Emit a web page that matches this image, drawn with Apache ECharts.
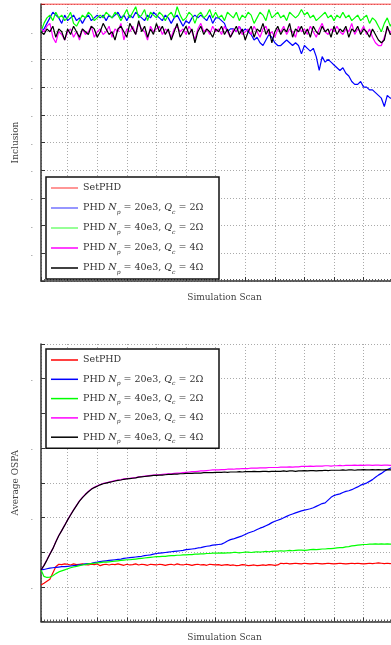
<!DOCTYPE html>
<html>
<head>
<meta charset="utf-8">
<script src="https://cdn.jsdelivr.net/npm/echarts@6/dist/echarts.min.js"></script>
<style>
  html, body { margin: 0; padding: 0; background: #fff; }
  #chart { width: 391px; height: 645px; }
</style>
</head>
<body>
<div id="chart"></div>
<script>
// legend names, same order in both panels
const seriesNames = [
  'SetPHD',
  'PHD N_p = 20e3, Q_c = 2Ω',
  'PHD N_p = 40e3, Q_c = 2Ω',
  'PHD N_p = 20e3, Q_c = 4Ω',
  'PHD N_p = 40e3, Q_c = 4Ω'
]
const seriesColors = ['#ff0000', '#0000ff', '#00ff00', '#ff00ff', '#000000']

// top panel: inclusion per scan (scan 1..120)
const inclSetPHD = [
  1, 1, 1, 1, 1, 1, 1, 1, 1, 1, 1, 1, 1, 1, 1, 1, 1, 1, 1, 1,
  1, 1, 1, 1, 1, 1, 1, 1, 1, 1, 1, 1, 1, 1, 1, 1, 1, 1, 1, 1,
  1, 1, 1, 1, 1, 1, 1, 1, 1, 1, 1, 1, 1, 1, 1, 1, 1, 1, 1, 1,
  1, 1, 1, 1, 1, 1, 1, 1, 1, 1, 1, 1, 1, 1, 1, 1, 1, 1, 1, 1,
  1, 1, 1, 1, 1, 1, 1, 1, 1, 1, 1, 1, 1, 1, 1, 1, 1, 1, 1, 1,
  1, 1, 1, 1, 1, 1, 1, 1, 1, 1, 1, 1, 1, 1, 1, 1, 1, 1, 1, 1
]
const inclN20Q2 = [
  0.90, 0.91, 0.93, 0.95, 0.97, 0.96, 0.95, 0.93, 0.96, 0.94, 0.95, 0.96, 0.94, 0.95, 0.93, 0.95, 0.96, 0.94, 0.95, 0.96,
  0.95, 0.96, 0.94, 0.96, 0.95, 0.96, 0.97, 0.95, 0.96, 0.94, 0.96, 0.95, 0.97, 0.96, 0.95, 0.94, 0.96, 0.95, 0.97, 0.96,
  0.95, 0.94, 0.96, 0.95, 0.93, 0.95, 0.96, 0.94, 0.92, 0.94, 0.93, 0.95, 0.96, 0.95, 0.96, 0.95, 0.94, 0.96, 0.93, 0.95,
  0.95, 0.94, 0.93, 0.90, 0.91, 0.91, 0.90, 0.92, 0.90, 0.91, 0.90, 0.89, 0.87, 0.88, 0.86, 0.85, 0.87, 0.89, 0.88, 0.86,
  0.85, 0.85, 0.86, 0.87, 0.86, 0.85, 0.86, 0.85, 0.82, 0.85, 0.84, 0.83, 0.84, 0.81, 0.76, 0.81, 0.79, 0.80, 0.79, 0.78,
  0.77, 0.76, 0.77, 0.75, 0.74, 0.72, 0.71, 0.71, 0.72, 0.70, 0.70, 0.69, 0.69, 0.68, 0.67, 0.66, 0.63, 0.67, 0.66, 0.66
]
const inclN40Q2 = [
  0.90, 0.93, 0.95, 0.96, 0.94, 0.97, 0.95, 0.96, 0.94, 0.95, 0.97, 0.93, 0.92, 0.94, 0.96, 0.95, 0.97, 0.96, 0.94, 0.95,
  0.96, 0.95, 0.97, 0.96, 0.95, 0.97, 0.96, 0.94, 0.96, 0.98, 0.95, 0.97, 0.99, 0.95, 0.96, 0.98, 0.94, 0.97, 0.96, 0.95,
  0.97, 0.96, 0.94, 0.96, 0.97, 0.95, 0.99, 0.96, 0.94, 0.95, 0.97, 0.96, 0.93, 0.96, 0.97, 0.95, 0.96, 0.98, 0.95, 0.97,
  0.95, 0.96, 0.94, 0.97, 0.96, 0.95, 0.97, 0.94, 0.96, 0.95, 0.97, 0.96, 0.93, 0.95, 0.97, 0.96, 0.94, 0.98, 0.95, 0.96,
  0.97, 0.95, 0.96, 0.94, 0.97, 0.96, 0.95, 0.96, 0.98, 0.96, 0.97, 0.95, 0.96, 0.94, 0.95, 0.96, 0.97, 0.95, 0.96, 0.94,
  0.96, 0.95, 0.97, 0.95, 0.96, 0.94, 0.95, 0.96, 0.94, 0.95, 0.96, 0.93, 0.95, 0.94, 0.92, 0.90, 0.93, 0.95, 0.92, 0.94
]
const inclN20Q4 = [
  0.91, 0.90, 0.92, 0.93, 0.88, 0.86, 0.90, 0.89, 0.87, 0.90, 0.91, 0.88, 0.90, 0.87, 0.91, 0.89, 0.90, 0.92, 0.88, 0.90,
  0.91, 0.89, 0.90, 0.92, 0.88, 0.91, 0.90, 0.93, 0.87, 0.91, 0.90, 0.92, 0.89, 0.93, 0.91, 0.90, 0.87, 0.92, 0.90, 0.91,
  0.92, 0.89, 0.91, 0.90, 0.88, 0.91, 0.92, 0.90, 0.91, 0.89, 0.92, 0.90, 0.87, 0.91, 0.93, 0.90, 0.91, 0.89, 0.92, 0.90,
  0.91, 0.89, 0.92, 0.90, 0.88, 0.91, 0.90, 0.92, 0.89, 0.90, 0.91, 0.89, 0.92, 0.90, 0.88, 0.91, 0.92, 0.89, 0.90, 0.88,
  0.91, 0.90, 0.92, 0.89, 0.91, 0.90, 0.88, 0.92, 0.90, 0.91, 0.89, 0.92, 0.90, 0.88, 0.91, 0.93, 0.90, 0.89, 0.91, 0.90,
  0.92, 0.90, 0.89, 0.91, 0.90, 0.93, 0.89, 0.91, 0.90, 0.92, 0.89, 0.91, 0.88, 0.86, 0.85, 0.85, 0.88, 0.91, 0.90, 0.89
]
const inclN40Q4 = [
  0.90, 0.89, 0.91, 0.90, 0.92, 0.88, 0.91, 0.90, 0.87, 0.91, 0.89, 0.92, 0.90, 0.88, 0.91, 0.90, 0.89, 0.92, 0.91, 0.88,
  0.90, 0.93, 0.91, 0.89, 0.90, 0.87, 0.91, 0.92, 0.90, 0.88, 0.93, 0.91, 0.89, 0.94, 0.90, 0.92, 0.88, 0.91, 0.89, 0.93,
  0.90, 0.92, 0.89, 0.91, 0.87, 0.90, 0.93, 0.88, 0.90, 0.92, 0.89, 0.91, 0.86, 0.90, 0.92, 0.89, 0.91, 0.90, 0.88, 0.91,
  0.90, 0.92, 0.89, 0.91, 0.88, 0.90, 0.92, 0.89, 0.91, 0.87, 0.90, 0.92, 0.88, 0.91, 0.90, 0.93, 0.89, 0.91, 0.86, 0.90,
  0.92, 0.89, 0.91, 0.90, 0.93, 0.88, 0.91, 0.90, 0.92, 0.89, 0.91, 0.88, 0.92, 0.90, 0.89, 0.92, 0.90, 0.91, 0.88, 0.92,
  0.89, 0.91, 0.90, 0.92, 0.88, 0.91, 0.90, 0.92, 0.89, 0.91, 0.90, 0.88, 0.91, 0.89, 0.87, 0.86, 0.87, 0.92, 0.89, 0.90
]

// bottom panel: average OSPA per scan (scan 1..120)
const ospaSetPHD = [
  1.05, 1.10, 1.16, 1.22, 1.40, 1.58, 1.65, 1.64, 1.66, 1.65, 1.63, 1.66, 1.64, 1.65, 1.66, 1.64, 1.63, 1.65, 1.64, 1.66,
  1.61, 1.64, 1.65, 1.63, 1.65, 1.64, 1.66, 1.64, 1.62, 1.65, 1.63, 1.64, 1.66, 1.63, 1.65, 1.64, 1.62, 1.65, 1.64, 1.63,
  1.65, 1.64, 1.62, 1.64, 1.65, 1.63, 1.66, 1.64, 1.63, 1.65, 1.64, 1.62, 1.64, 1.65, 1.63, 1.64, 1.62, 1.65, 1.64, 1.63,
  1.64, 1.62, 1.63, 1.64, 1.62, 1.63, 1.61, 1.62, 1.64, 1.63, 1.61, 1.62, 1.63, 1.61, 1.62, 1.63, 1.62, 1.64, 1.63, 1.62,
  1.63, 1.68, 1.67, 1.68, 1.66, 1.67, 1.68, 1.67, 1.66, 1.68, 1.67, 1.66, 1.67, 1.68, 1.67, 1.66, 1.67, 1.68, 1.67, 1.66,
  1.67, 1.68, 1.67, 1.66, 1.67, 1.68, 1.67, 1.68, 1.67, 1.66, 1.67, 1.68, 1.67, 1.68, 1.69, 1.68, 1.67, 1.68, 1.67, 1.68
]
const ospaN20Q2 = [
  1.49, 1.50, 1.52, 1.54, 1.55, 1.56, 1.57, 1.58, 1.58, 1.59, 1.60, 1.61, 1.62, 1.63, 1.64, 1.66, 1.67, 1.68, 1.70, 1.71,
  1.73, 1.74, 1.75, 1.76, 1.77, 1.78, 1.79, 1.80, 1.82, 1.83, 1.84, 1.85, 1.86, 1.87, 1.88, 1.90, 1.91, 1.92, 1.94, 1.96,
  1.97, 1.98, 1.99, 2.00, 2.01, 2.02, 2.03, 2.04, 2.05, 2.07, 2.08, 2.09, 2.10, 2.12, 2.13, 2.15, 2.17, 2.18, 2.20, 2.21,
  2.22, 2.23, 2.27, 2.32, 2.36, 2.38, 2.41, 2.44, 2.47, 2.51, 2.55, 2.58, 2.61, 2.65, 2.69, 2.72, 2.76, 2.80, 2.85, 2.89,
  2.92, 2.95, 2.99, 3.03, 3.07, 3.10, 3.13, 3.16, 3.19, 3.21, 3.23, 3.25, 3.28, 3.32, 3.36, 3.40, 3.42, 3.50, 3.58, 3.63,
  3.66, 3.68, 3.72, 3.75, 3.77, 3.80, 3.84, 3.88, 3.93, 3.96, 3.99, 4.04, 4.09, 4.16, 4.22, 4.27, 4.33, 4.38, 4.42, 4.46
]
const ospaN40Q2 = [
  1.49, 1.30, 1.27, 1.28, 1.32, 1.38, 1.43, 1.46, 1.49, 1.52, 1.55, 1.57, 1.59, 1.61, 1.63, 1.64, 1.66, 1.67, 1.68, 1.69,
  1.70, 1.71, 1.71, 1.72, 1.73, 1.74, 1.75, 1.76, 1.77, 1.78, 1.78, 1.79, 1.80, 1.81, 1.82, 1.83, 1.84, 1.85, 1.86, 1.87,
  1.87, 1.88, 1.88, 1.89, 1.90, 1.90, 1.91, 1.91, 1.92, 1.92, 1.93, 1.93, 1.94, 1.94, 1.95, 1.95, 1.96, 1.96, 1.97, 1.97,
  1.97, 1.98, 1.97, 1.98, 1.98, 1.99, 1.99, 1.98, 1.99, 2.00, 2.00, 1.99, 2.00, 2.01, 2.00, 2.01, 2.02, 2.01, 2.02, 2.03,
  2.03, 2.04, 2.03, 2.04, 2.05, 2.04, 2.05, 2.06, 2.06, 2.05, 2.06, 2.07, 2.08, 2.07, 2.08, 2.09, 2.09, 2.10, 2.10, 2.11,
  2.12, 2.13, 2.13, 2.15, 2.16, 2.18, 2.19, 2.20, 2.21, 2.22, 2.22, 2.23, 2.23, 2.24, 2.23, 2.24, 2.23, 2.24, 2.23, 2.24
]
const ospaN20Q4 = [
  1.49, 1.62, 1.78, 1.95, 2.10, 2.30, 2.48, 2.62, 2.78, 2.93, 3.08, 3.22, 3.35, 3.48, 3.58, 3.67, 3.75, 3.82, 3.87, 3.91,
  3.95, 3.98, 4.00, 4.02, 4.04, 4.06, 4.08, 4.09, 4.11, 4.12, 4.13, 4.14, 4.15, 4.17, 4.18, 4.19, 4.20, 4.21, 4.22, 4.23,
  4.23, 4.24, 4.25, 4.26, 4.26, 4.27, 4.28, 4.28, 4.29, 4.30, 4.31, 4.32, 4.32, 4.33, 4.34, 4.34, 4.35, 4.36, 4.37, 4.37,
  4.37, 4.38, 4.38, 4.39, 4.39, 4.39, 4.40, 4.40, 4.41, 4.41, 4.41, 4.42, 4.42, 4.42, 4.43, 4.43, 4.43, 4.44, 4.44, 4.44,
  4.44, 4.45, 4.45, 4.45, 4.46, 4.45, 4.46, 4.46, 4.47, 4.47, 4.47, 4.48, 4.47, 4.48, 4.48, 4.48, 4.49, 4.49, 4.48, 4.49,
  4.49, 4.50, 4.49, 4.50, 4.50, 4.50, 4.51, 4.50, 4.51, 4.50, 4.51, 4.51, 4.50, 4.51, 4.51, 4.50, 4.51, 4.51, 4.50, 4.51
]
const ospaN40Q4 = [
  1.49, 1.61, 1.77, 1.94, 2.10, 2.29, 2.47, 2.62, 2.77, 2.93, 3.07, 3.21, 3.34, 3.47, 3.57, 3.66, 3.74, 3.81, 3.86, 3.90,
  3.94, 3.97, 3.99, 4.01, 4.03, 4.05, 4.07, 4.08, 4.10, 4.11, 4.12, 4.13, 4.14, 4.16, 4.17, 4.18, 4.19, 4.20, 4.21, 4.21,
  4.22, 4.22, 4.23, 4.24, 4.24, 4.25, 4.25, 4.26, 4.26, 4.27, 4.27, 4.27, 4.28, 4.28, 4.28, 4.29, 4.29, 4.29, 4.29, 4.30,
  4.30, 4.30, 4.31, 4.30, 4.31, 4.31, 4.31, 4.32, 4.31, 4.32, 4.32, 4.32, 4.33, 4.32, 4.32, 4.33, 4.33, 4.32, 4.33, 4.33,
  4.33, 4.33, 4.34, 4.33, 4.34, 4.34, 4.33, 4.34, 4.34, 4.35, 4.34, 4.35, 4.35, 4.34, 4.35, 4.35, 4.36, 4.35, 4.36, 4.36,
  4.36, 4.36, 4.37, 4.36, 4.37, 4.37, 4.36, 4.37, 4.37, 4.38, 4.37, 4.37, 4.38, 4.37, 4.38, 4.37, 4.37, 4.38, 4.37, 4.38
]

const inclusionData = [inclSetPHD, inclN20Q2, inclN40Q2, inclN20Q4, inclN40Q4]
const ospaData = [ospaSetPHD, ospaN20Q2, ospaN40Q2, ospaN20Q4, ospaN40Q4]

const serif = 'DejaVu Serif'
const axisColor = '#333'

function xAxisOpt (gridIndex) {
  return {
    gridIndex,
    type: 'value',
    min: 1,
    max: 125,
    splitNumber: 12,
    name: 'Simulation Scan',
    nameLocation: 'middle',
    nameGap: 12,
    nameTextStyle: { fontFamily: serif, fontSize: 9, color: '#444' },
    axisLine: { lineStyle: { color: axisColor, width: 1.5 } },
    axisTick: { inside: true, length: 4, lineStyle: { color: axisColor } },
    minorTick: { show: true, splitNumber: 10, length: 2, lineStyle: { color: '#555' } },
    axisLabel: { show: false },
    splitLine: { show: true, lineStyle: { color: '#aaa', type: [1, 2] } }
  }
}

function yAxisOpt (gridIndex, name, max, interval, labelFn) {
  return {
    gridIndex,
    type: 'value',
    min: 0,
    max,
    interval,
    name,
    nameLocation: 'middle',
    nameGap: 16,
    nameTextStyle: { fontFamily: serif, fontSize: 9, color: '#444' },
    axisLine: { show: true, lineStyle: { color: axisColor, width: 1.5 } },
    axisTick: { show: true, inside: true, length: 4, lineStyle: { color: axisColor } },
    axisLabel: { formatter: labelFn, fontSize: 8, color: '#444', margin: 8 },
    splitLine: { show: true, lineStyle: { color: '#aaa', type: [1, 2] } }
  }
}

function legendOpt (top, gap, fade) {
  return {
    left: 46,
    top,
    orient: 'vertical',
    icon: 'rect',
    itemWidth: 27,
    itemHeight: 1.5,
    itemGap: gap,
    padding: [4, 8, 4, 5],
    backgroundColor: '#fff',
    borderColor: '#111',
    borderWidth: 1.5,
    borderRadius: 0,
    selectedMode: false,
    data: seriesNames.map((n, i) => ({
      name: n,
      itemStyle: { opacity: fade && i < 3 ? 0.55 : 1 }
    })),
    formatter: (n) => n.replace(/([NQ])_([pc])/g, '{it|$1}{sub|$2}'),
    textStyle: {
      fontFamily: serif,
      fontSize: 9.5,
      color: '#333',
      lineHeight: 14,
      width: 128,
      rich: {
        it: { fontFamily: serif, fontStyle: 'italic', fontSize: 9.5, color: '#333', lineHeight: 14 },
        sub: { fontFamily: serif, fontStyle: 'italic', fontSize: 6, color: '#333', lineHeight: 10, verticalAlign: 'bottom' }
      }
    }
  }
}

function lineSeries (values, i, axisIndex) {
  return {
    name: seriesNames[i],
    type: 'line',
    xAxisIndex: axisIndex,
    yAxisIndex: axisIndex,
    symbol: 'none',
    showSymbol: false,
    lineStyle: { color: seriesColors[i], width: 1.2 },
    itemStyle: { color: seriesColors[i] },
    data: values.map((v, k) => [k + 1, v])
  }
}

const chart = echarts.init(document.getElementById('chart'))
chart.setOption({
  animation: false,
  backgroundColor: '#fff',
  grid: [
    // the original figure is cropped on the right, so the plot runs past the canvas edge
    { left: 41, width: 367, top: 4, height: 277, outerBoundsMode: 'none', containLabel: false },
    { left: 41, width: 367, top: 344, height: 277.5, outerBoundsMode: 'none', containLabel: false }
  ],
  legend: [legendOpt(177, 6, true), legendOpt(349, 5.3, false)],
  xAxis: [xAxisOpt(0), xAxisOpt(1)],
  yAxis: [
    yAxisOpt(0, 'Inclusion', 1, 0.1, (v) => (v > 0.05 && v < 0.95 ? '.' : '')),
    yAxisOpt(1, 'Average OSPA', 8, 1, (v) => (Math.round(v) % 2 === 1 ? '.' : ''))
  ],
  series: [
    ...inclusionData.map((d, i) => lineSeries(d, i, 0)),
    ...ospaData.map((d, i) => lineSeries(d, i, 1))
  ]
})
</script>
</body>
</html>
